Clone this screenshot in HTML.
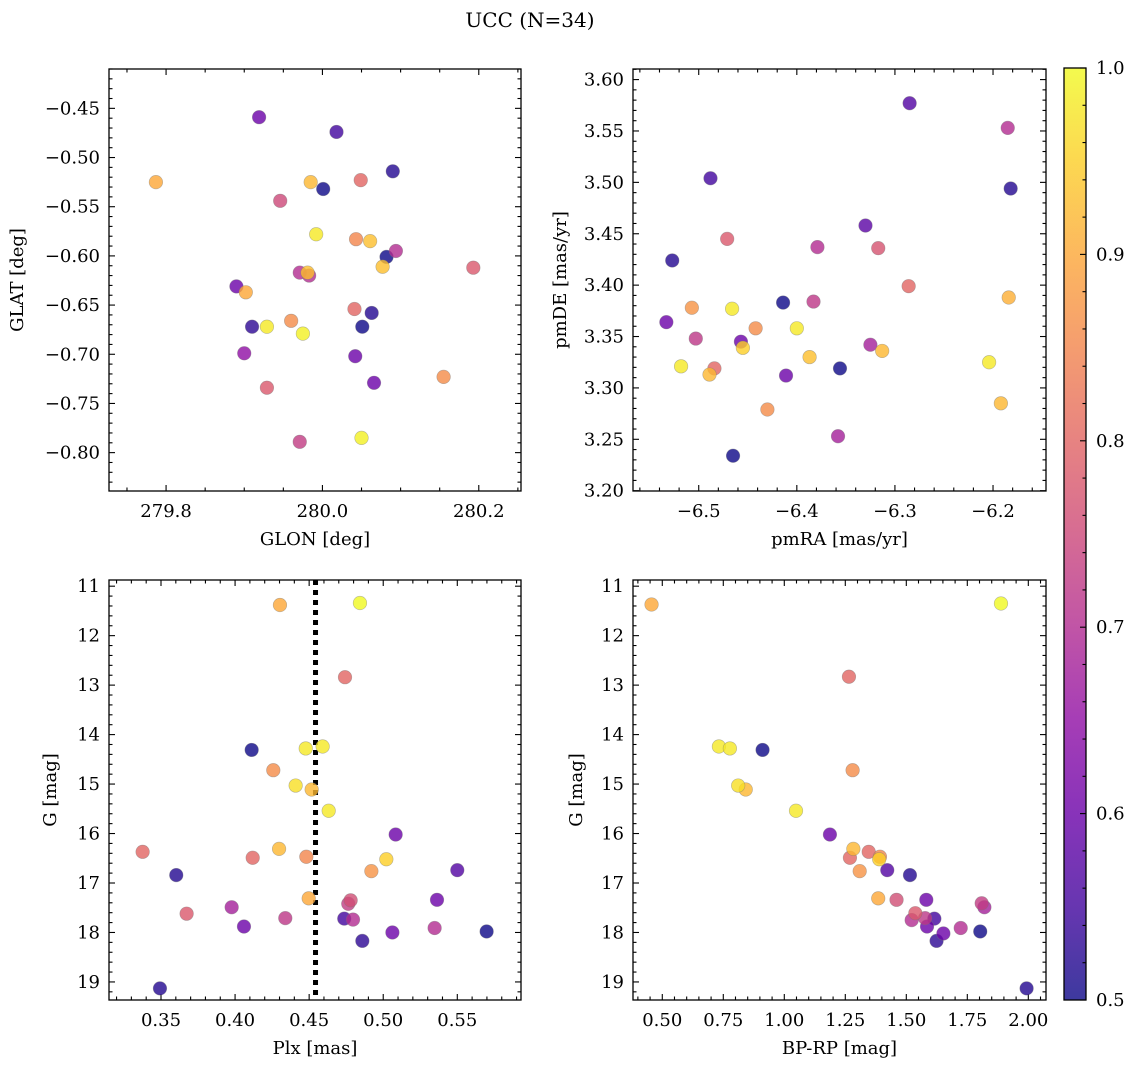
<!DOCTYPE html>
<html><head><meta charset="utf-8">
<style>
html,body{margin:0;padding:0;background:#fff;}
svg{display:block;font-family:"DejaVu Serif","Liberation Serif",serif;}
</style></head>
<body>
<svg id="fig" width="1136" height="1068" viewBox="0 0 1136 1068" xmlns="http://www.w3.org/2000/svg">
<text x="530" y="27" font-size="20" text-anchor="middle">UCC (N=34)</text>
</svg>
<script>
// ---- Panel 1: GLON vs GLAT ----
const glon1 = [279.919,280.018,280.090,279.787,279.985,280.049,280.001,279.946,279.992,280.043,280.061,280.094,280.082,280.077,280.193,279.971,279.983,279.981,279.890,279.902,280.041,280.063,279.910,279.929,279.960,280.051,279.975,279.900,280.042,280.155,280.066,279.929,279.971,280.050];
const glat1 = [-0.459,-0.474,-0.514,-0.525,-0.525,-0.523,-0.532,-0.544,-0.578,-0.583,-0.585,-0.595,-0.601,-0.611,-0.612,-0.617,-0.620,-0.617,-0.631,-0.637,-0.654,-0.658,-0.672,-0.672,-0.666,-0.672,-0.679,-0.699,-0.702,-0.723,-0.729,-0.734,-0.789,-0.785];
const prob1 = [0.6,0.55,0.52,0.9,0.92,0.8,0.5,0.75,0.98,0.85,0.93,0.7,0.5,0.93,0.78,0.7,0.7,0.93,0.6,0.9,0.8,0.52,0.53,0.98,0.86,0.5,0.99,0.65,0.6,0.86,0.6,0.78,0.73,0.99];
// ---- Panel 2: pmRA vs pmDE ----
const pmra2 = [-6.285,-6.185,-6.488,-6.182,-6.330,-6.471,-6.379,-6.317,-6.527,-6.286,-6.184,-6.414,-6.383,-6.507,-6.466,-6.533,-6.442,-6.400,-6.503,-6.457,-6.455,-6.325,-6.313,-6.387,-6.518,-6.484,-6.489,-6.356,-6.204,-6.411,-6.192,-6.430,-6.358,-6.465];
const pmde2 = [3.577,3.553,3.504,3.494,3.458,3.445,3.437,3.436,3.424,3.399,3.388,3.383,3.384,3.378,3.377,3.364,3.358,3.358,3.348,3.345,3.339,3.342,3.336,3.330,3.321,3.319,3.313,3.319,3.325,3.312,3.285,3.279,3.253,3.234];
const prob2 = [0.57,0.7,0.55,0.52,0.58,0.78,0.7,0.77,0.52,0.8,0.91,0.5,0.72,0.87,0.98,0.6,0.86,0.98,0.72,0.6,0.95,0.68,0.92,0.93,0.98,0.8,0.92,0.5,0.98,0.6,0.92,0.86,0.68,0.5];
// ---- Panel 3: Plx vs G ----
const plx3 = [0.4303,0.4843,0.4742,0.4112,0.4477,0.4591,0.4258,0.4409,0.4517,0.4632,0.5084,0.3376,0.4297,0.4119,0.4481,0.5021,0.4920,0.3603,0.5500,0.4497,0.4780,0.4764,0.5363,0.3977,0.3673,0.4339,0.4737,0.4796,0.4060,0.5347,0.5062,0.5698,0.4859,0.3493];
const gmag3 = [11.38,11.34,12.84,14.31,14.28,14.24,14.72,15.03,15.11,15.54,16.02,16.37,16.31,16.49,16.47,16.52,16.76,16.84,16.74,17.31,17.35,17.42,17.34,17.49,17.62,17.71,17.72,17.74,17.88,17.91,18.00,17.98,18.17,19.13];
const prob3 = [0.9,1.0,0.8,0.5,0.98,0.98,0.86,0.97,0.92,0.98,0.6,0.8,0.92,0.8,0.85,0.95,0.87,0.52,0.57,0.9,0.76,0.73,0.6,0.68,0.78,0.72,0.55,0.7,0.6,0.7,0.6,0.5,0.53,0.52];
const plxMedian = 0.4543;
// ---- Panel 4: BP-RP vs G ----
const bprp4 = [0.456,1.888,1.265,0.732,0.777,0.911,1.280,0.811,0.842,1.048,1.187,1.283,1.346,1.392,1.269,1.389,1.309,1.422,1.515,1.385,1.460,1.582,1.809,1.820,1.537,1.577,1.615,1.522,1.585,1.723,1.652,1.803,1.624,1.993];
const gmag4 = [11.37,11.35,12.83,14.24,14.28,14.31,14.72,15.03,15.11,15.54,16.02,16.31,16.37,16.47,16.49,16.52,16.76,16.74,16.84,17.31,17.34,17.34,17.41,17.49,17.61,17.71,17.72,17.75,17.88,17.91,18.02,17.98,18.17,19.13];
const prob4 = [0.9,1.0,0.8,0.98,0.98,0.5,0.86,0.97,0.92,0.98,0.6,0.92,0.8,0.85,0.8,0.95,0.87,0.57,0.52,0.9,0.76,0.6,0.73,0.68,0.78,0.72,0.55,0.7,0.6,0.7,0.6,0.5,0.53,0.52];
// ---- tick label arrays ----
const ticks1x = [279.8,280.0,280.2];
const ticks1y = [-0.45,-0.50,-0.55,-0.60,-0.65,-0.70,-0.75,-0.80];
const ticks2x = [-6.5,-6.4,-6.3,-6.2];
const ticks2y = [3.60,3.55,3.50,3.45,3.40,3.35,3.30,3.25,3.20];
const ticks3x = [0.35,0.40,0.45,0.50,0.55];
const ticksG = [11,12,13,14,15,16,17,18,19];
const ticks4x = [0.50,0.75,1.00,1.25,1.50,1.75,2.00];
const ticksCb = [0.5,0.6,0.7,0.8,0.9,1.0];

const NS = "http://www.w3.org/2000/svg";
const svg = document.getElementById('fig');
function mk(tag, attrs, parent){
  const e = document.createElementNS(NS, tag);
  for (const k in attrs) e.setAttribute(k, attrs[k]);
  (parent||svg).appendChild(e);
  return e;
}
const plasma = [[13,8,135],[65,4,157],[106,0,168],[143,13,164],[177,42,144],[204,71,120],[225,100,98],[242,132,75],[252,166,54],[252,206,37],[240,249,33]];
function cmap(v){
  let t = Math.max(0, Math.min(1, (v-0.5)/0.5))*10;
  const i = Math.min(9, Math.floor(t)), f = t - i;
  const a = plasma[i], b = plasma[i+1];
  return 'rgb(' + [0,1,2].map(k => Math.round(a[k]+(b[k]-a[k])*f)).join(',') + ')';
}
function fmt(v, d){ const s = v.toFixed(d); return v < 0 ? '\u2212' + s.slice(1) : s; }
const FS = 18;

function panel(cfg){
  const {x0,x1,y0,y1,xmin,xmax,ymin,ymax,yinv} = cfg;
  const sx = v => x0 + (v - xmin)/(xmax - xmin)*(x1 - x0);
  const sy = yinv ? (v => y0 + (v - ymin)/(ymax - ymin)*(y1 - y0)) : (v => y1 - (v - ymin)/(ymax - ymin)*(y1 - y0));
  const g = mk('g', {});
  
  
  const eps = 1e-9;
  for (let v = Math.ceil((xmin)/cfg.xminor - eps)*cfg.xminor; v <= xmax + eps; v += cfg.xminor){
    const isMaj = Math.abs(v/cfg.xmajor - Math.round(v/cfg.xmajor)) < 1e-6;
    const L = isMaj ? 6 : 3.5, X = sx(v);
    mk('line',{x1:X,y1:y1,x2:X,y2:y1-L,stroke:'#000','stroke-width':1.1},g);
    mk('line',{x1:X,y1:y0,x2:X,y2:y0+L,stroke:'#000','stroke-width':1.1},g);
  }
  const ylo = Math.min(ymin,ymax), yhi = Math.max(ymin,ymax);
  for (let v = Math.ceil(ylo/cfg.yminor - eps)*cfg.yminor; v <= yhi + eps; v += cfg.yminor){
    const isMaj = Math.abs(v/cfg.ymajor - Math.round(v/cfg.ymajor)) < 1e-6;
    const L = isMaj ? 6 : 3.5, Y = sy(v);
    mk('line',{x1:x0,y1:Y,x2:x0+L,y2:Y,stroke:'#000','stroke-width':1.1},g);
    mk('line',{x1:x1,y1:Y,x2:x1-L,y2:Y,stroke:'#000','stroke-width':1.1},g);
  }
  cfg.xticks.forEach(v => {
    const t = mk('text',{x:sx(v),y:y1+26,'font-size':FS,'text-anchor':'middle'},g);
    t.textContent = fmt(v, cfg.xdec);
    
    
  });
  cfg.yticks.forEach(v => {
    const t = mk('text',{x:x0-9,y:sy(v)+6,'font-size':FS,'text-anchor':'end'},g);
    t.textContent = fmt(v, cfg.ydec);
    
    
  });
  const xl = mk('text',{x:(x0+x1)/2,y:y1+54,'font-size':FS,'text-anchor':'middle'},g);
  xl.textContent = cfg.xlabel;
  
  
  const yl = mk('text',{x:0,y:0,'font-size':FS,'text-anchor':'middle',transform:'translate('+cfg.ylx+','+((y0+y1)/2)+') rotate(-90)'},g);
  yl.textContent = cfg.ylabel;
  
  
  if (cfg.vline !== undefined){
    const ln = mk('line',{x1:sx(cfg.vline),y1:y0,x2:sx(cfg.vline),y2:y1,stroke:'#000','stroke-width':5,'stroke-dasharray':'5,5'},g);
    
    
  }
  const idx = cfg.xs.map((_, i) => i).sort((a,b) => cfg.cs[a]-cfg.cs[b]);
  idx.forEach(i => {
    const c = mk('circle',{cx:sx(cfg.xs[i]),cy:sy(cfg.ys[i]),r:6.8,fill:cmap(cfg.cs[i]),'fill-opacity':0.8,stroke:'#777','stroke-opacity':0.5,'stroke-width':0.6},g);
    
    
  });
  const fr = mk('rect',{x:x0,y:y0,width:x1-x0,height:y1-y0,fill:'none',stroke:'#000','stroke-width':1.3},g);
  
  
}

panel({name:'glon-glat-panel',x0:109,x1:521,y0:69,y1:491,xmin:279.727,xmax:280.254,ymin:-0.839,ymax:-0.410,
  xmajor:0.2,xminor:0.05,ymajor:0.05,yminor:0.01,xticks:ticks1x,yticks:ticks1y,xdec:1,ydec:2,
  xlabel:'GLON [deg]',ylabel:'GLAT [deg]',ylx:23,xs:glon1,ys:glat1,cs:prob1});
panel({name:'pm-panel',x0:633,x1:1046,y0:69,y1:491,xmin:-6.567,xmax:-6.146,ymin:3.1997,ymax:3.6103,
  xmajor:0.1,xminor:0.02,ymajor:0.05,yminor:0.01,xticks:ticks2x,yticks:ticks2y,xdec:1,ydec:2,
  xlabel:'pmRA [mas/yr]',ylabel:'pmDE [mas/yr]',ylx:566,xs:pmra2,ys:pmde2,cs:prob2});
panel({name:'plx-g-panel',x0:109,x1:521,y0:580,y1:1000,xmin:0.3149,xmax:0.593,ymin:10.875,ymax:19.365,yinv:true,
  xmajor:0.05,xminor:0.01,ymajor:1,yminor:0.2,xticks:ticks3x,yticks:ticksG,xdec:2,ydec:0,
  xlabel:'Plx [mas]',ylabel:'G [mag]',ylx:56,xs:plx3,ys:gmag3,cs:prob3,vline:plxMedian});
panel({name:'cmd-panel',x0:633,x1:1046,y0:580,y1:1000,xmin:0.380,xmax:2.0725,ymin:10.875,ymax:19.365,yinv:true,
  xmajor:0.25,xminor:0.05,ymajor:1,yminor:0.2,xticks:ticks4x,yticks:ticksG,xdec:2,ydec:0,
  xlabel:'BP-RP [mag]',ylabel:'G [mag]',ylx:582,xs:bprp4,ys:gmag4,cs:prob4});

(function(){
  const cx0=1064, cx1=1086, cy0=68, cy1=1000;
  const g = mk('g',{});
  
  
  const defs = mk('defs',{},g);
  const lg = mk('linearGradient',{id:'cbg',x1:0,y1:1,x2:0,y2:0},defs);
  for (let i=0;i<=10;i++){
    mk('stop',{offset:(i*10)+'%','stop-color':cmap(0.5+i*0.05),'stop-opacity':0.8},lg);
  }
  mk('rect',{x:cx0,y:cy0,width:cx1-cx0,height:cy1-cy0,fill:'url(#cbg)'},g);
  const sy = v => cy1 - (v-0.5)/0.5*(cy1-cy0);
  for (let k=0;k<=25;k++){
    const v = 0.5 + k*0.02, maj = (k%5===0);
    const Y = sy(v);
    mk('line',{x1:cx1,y1:Y,x2:cx1-(maj?6:3.5),y2:Y,stroke:'#000','stroke-width':1.1},g);
  }
  ticksCb.forEach(v => {
    const t = mk('text',{x:1096,y:sy(v)+6,'font-size':FS},g);
    t.textContent = v.toFixed(1);
    
    
  });
  mk('rect',{x:cx0,y:cy0,width:cx1-cx0,height:cy1-cy0,fill:'none',stroke:'#000','stroke-width':1.3},g);
})();
</script>
</body></html>
